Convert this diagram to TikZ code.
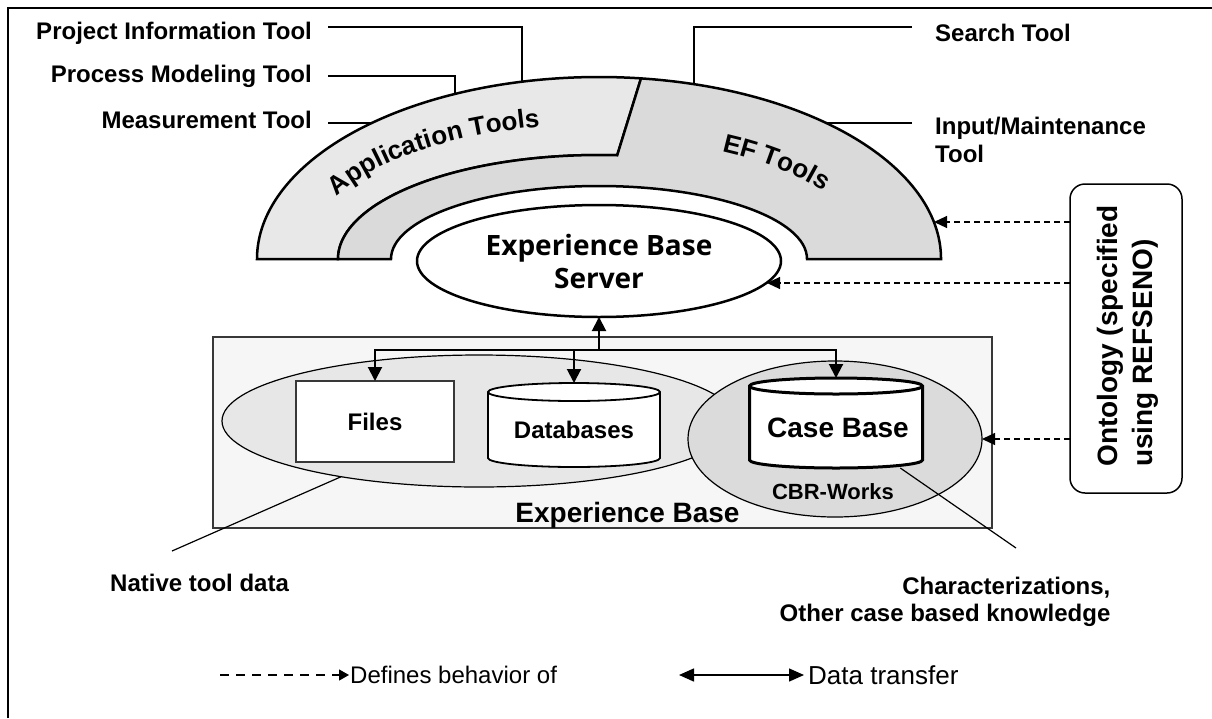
\documentclass[tikz,border=0pt]{standalone}
\usepackage{fontspec}
\setmainfont{Liberation Sans}
\newfontfamily\srvfont{Open Sans}
\usepackage{xcolor}
\usetikzlibrary{arrows.meta,shapes.geometric,decorations.text}
\definecolor{appgray}{gray}{0.91}
\definecolor{efgray}{gray}{0.855}
\definecolor{natgray}{gray}{0.905}
\definecolor{cbrgray}{gray}{0.86}
\definecolor{ebgray}{gray}{0.965}
\definecolor{edgegray}{gray}{0.22}
\newcommand{\bandfont}{\fontsize{26}{26}\selectfont\bfseries}

\begin{document}
\begin{tikzpicture}[x=1pt,y=1pt,
  every node/.style={font=\bfseries},
  toollabel/.style={font=\fontsize{24}{28}\selectfont\bfseries, inner sep=0pt},
  leader/.style={line width=1.5pt},
  band/.style={line width=2.5pt},
  flow/.style={line width=2pt, -{Triangle[length=14pt,width=14pt]}},
  defines/.style={line width=1.2pt, dash pattern=on 6pt off 4pt, -{Triangle[length=13pt,width=12pt]}},
  store/.style={inner sep=0pt, outer sep=0pt, font=\fontsize{24}{28}\selectfont\bfseries},
  cyl/.style={draw=black, fill=white, line width=1.8pt}]

\useasboundingbox (0,0) rectangle (1212,-718);
\draw[line width=2pt] (8,-718) -- (8,-8) -- (1212,-8);

% tool bands
\filldraw[band, fill=appgray] (257,-259) arc[start angle=180, end angle=82.95, x radius=342, y radius=182]
  -- (617.2,-155.25) arc[start angle=86, end angle=180, x radius=261, y radius=104] -- cycle;
\filldraw[band, fill=efgray] (641,-78.4) arc[start angle=82.95, end angle=0, x radius=342, y radius=182]
  -- (807,-259) arc[start angle=0, end angle=180, x radius=208, y radius=73]
  -- (338,-259) arc[start angle=180, end angle=86, x radius=261, y radius=104] -- cycle;

\path[decorate, decoration={text along path, text align=center, text={|\bandfont|Application Tools}}]
  (322.6,-214.8) arc[start angle=165.9, end angle=97.2, x radius=285, y radius=120];
\path[decorate, decoration={text along path, text align=center, text={|\bandfont|EF Tools}}]
  (705.9,-147.8) arc[start angle=66.2, end angle=26.5, x radius=265, y radius=115];

    \node[toollabel, anchor=east] (pit) at (312,-33) {Project Information Tool};
    \node[toollabel, anchor=east] (pmt) at (312,-76) {Process Modeling Tool};
    \node[toollabel, anchor=east] (mt) at (312,-120) {Measurement Tool};
    \node[toollabel, anchor=west] (srch) at (935,-33) {Search Tool};
    \node[toollabel, anchor=west, align=left] (inp) at (935,-140) {Input/Maintenance\\Tool};

    \coordinate (pitarc) at (522,-81.6);
    \coordinate (pmtarc) at (455,-94);
    \coordinate (mtarc) at (371,-123);
    \coordinate (srcharc) at (694,-84);
    \coordinate (inparc) at (826,-123);

    % leaders to the tools
    \draw[leader] ([xshift=16pt,yshift=6pt]pit.east) -| (pitarc);
    \draw[leader] ([xshift=16pt]pmt.east) -| (pmtarc);
    \draw[leader] ([xshift=16pt,yshift=-3pt]mt.east) -- (mtarc);
    \draw[leader] ([xshift=-23pt,yshift=6pt]srch.west) -| (srcharc);
    \draw[leader] ([xshift=-23pt,yshift=17pt]inp.west) -- (inparc);

    \node[ellipse, draw, line width=2.5pt, fill=white, minimum width=364pt, minimum height=112pt,
      inner sep=0pt, outer sep=0pt, align=center, font=\srvfont\fontsize{28}{33}\selectfont\bfseries]
      (server) at (599,-261) {Experience Base\\Server};

    % experience base
    \node[draw=edgegray, fill=ebgray, line width=2pt, minimum width=779pt, minimum height=191pt, outer sep=0pt] (eb) at (602.5,-432.5) {};
    \node[ellipse, draw, line width=1.2pt, fill=natgray, minimum width=514pt, minimum height=132pt, outer sep=0pt] (native) at (479,-421) {};
    \node[ellipse, draw, line width=1.2pt, fill=cbrgray, minimum width=294pt, minimum height=156pt, outer sep=0pt] (cbr) at (835,-439) {};

    \node[store, draw=edgegray, fill=white, line width=2pt, minimum width=158pt, minimum height=81pt] (files) at (375,-421.5) {Files};

    \coordinate (dbc) at (574,-425);
    \draw[cyl, shift={(dbc)}] (-86,33) -- (-86,-33) arc[start angle=180, end angle=360, x radius=86, y radius=9]
      -- (86,33) arc[start angle=0, end angle=180, x radius=86, y radius=9] -- cycle;
    \draw[cyl, fill=none, shift={(dbc)}] (-86,33) arc[start angle=180, end angle=360, x radius=86, y radius=9];
    \node[store, minimum width=172pt, minimum height=84pt] (db) at (dbc) {};
    \node[store] (dbtext) at (574,-430) {Databases};

    \coordinate (cbc) at (836,-423);
    \draw[cyl, line width=3pt, shift={(cbc)}] (-86.5,37) -- (-86.5,-37) arc[start angle=180, end angle=360, x radius=86.5, y radius=8]
      -- (86.5,37) arc[start angle=0, end angle=180, x radius=86.5, y radius=8] -- cycle;
    \draw[cyl, line width=3pt, fill=none, shift={(cbc)}] (-86.5,37) arc[start angle=180, end angle=360, x radius=86.5, y radius=8];
    \node[store, minimum width=173pt, minimum height=90pt] (cb) at (cbc) {};
    \node[store, font=\fontsize{28}{32}\selectfont\bfseries] (cbtitle) at (838,-428) {Case Base};

    \node[font=\fontsize{22}{26}\selectfont\bfseries] (cbrtitle) at (833,-492) {CBR-Works};
    \node[font=\fontsize{28}{32}\selectfont\bfseries] (ebtitle) at (627.5,-515) {Experience Base};

    % data transfer
    \coordinate (hub) at (599,-350);
    \draw[flow] (hub) -- (server.south);
    \draw[flow] (hub) -| (files.north);
    \draw[flow] (hub) -| (db.north);
    \draw[flow] (hub) -| (cb.north);

    \node[draw, line width=1.5pt, rounded corners=15pt, fill=white, minimum width=112pt, minimum height=309pt, outer sep=0pt] (onto) at (1126,-338.5) {};
    \node[rotate=90, align=left, inner sep=0pt, font=\fontsize{28}{35}\selectfont\bfseries] (ontotext) at (1127.5,-336) {Ontology (specified\\using REFSENO)};

    % defines behavior
    \coordinate (efin) at (934,-222);
    \coordinate (srvin) at (767,-283);
    \draw[defines] (onto.west |- efin) -- (efin);
    \draw[defines] (onto.west |- srvin) -- (srvin);
    \draw[defines] (onto.west |- cbr.east) -- (cbr.east);

    \coordinate (natfoot) at (172,-551);
    \coordinate (cbfoot) at (1016,-548);
    \draw[line width=1.2pt] (native.202) -- (natfoot);
    \draw[line width=1.2pt] (cb.-35) -- (cbfoot);
    \node[toollabel, anchor=west] (nattext) at (110,-583) {Native tool data};
    \node[toollabel, align=right, font=\fontsize{24}{27}\selectfont\bfseries] (cbtext) at (945,-601.5) {Characterizations,\\Other case based knowledge};

    % legend
    \coordinate (legdash) at (220,-675);
    \node[anchor=west, inner sep=1pt, font=\fontsize{24}{28}\selectfont] (legdef) at (349,-675) {Defines behavior of};
    \draw[line width=1.2pt, dash pattern=on 9pt off 7pt, -{Triangle[length=10pt,width=11pt]}] (legdash) -- (legdef.west);
    \coordinate (legdata) at (679,-675);
    \node[anchor=west, inner sep=4pt, font=\fontsize{26}{28}\selectfont] (legtr) at (804,-675) {Data transfer};
    \draw[line width=1.5pt, {Triangle[length=15pt,width=13pt]}-{Triangle[length=15pt,width=13pt]}] (legdata) -- (legtr.west);

\end{tikzpicture}
\end{document}
